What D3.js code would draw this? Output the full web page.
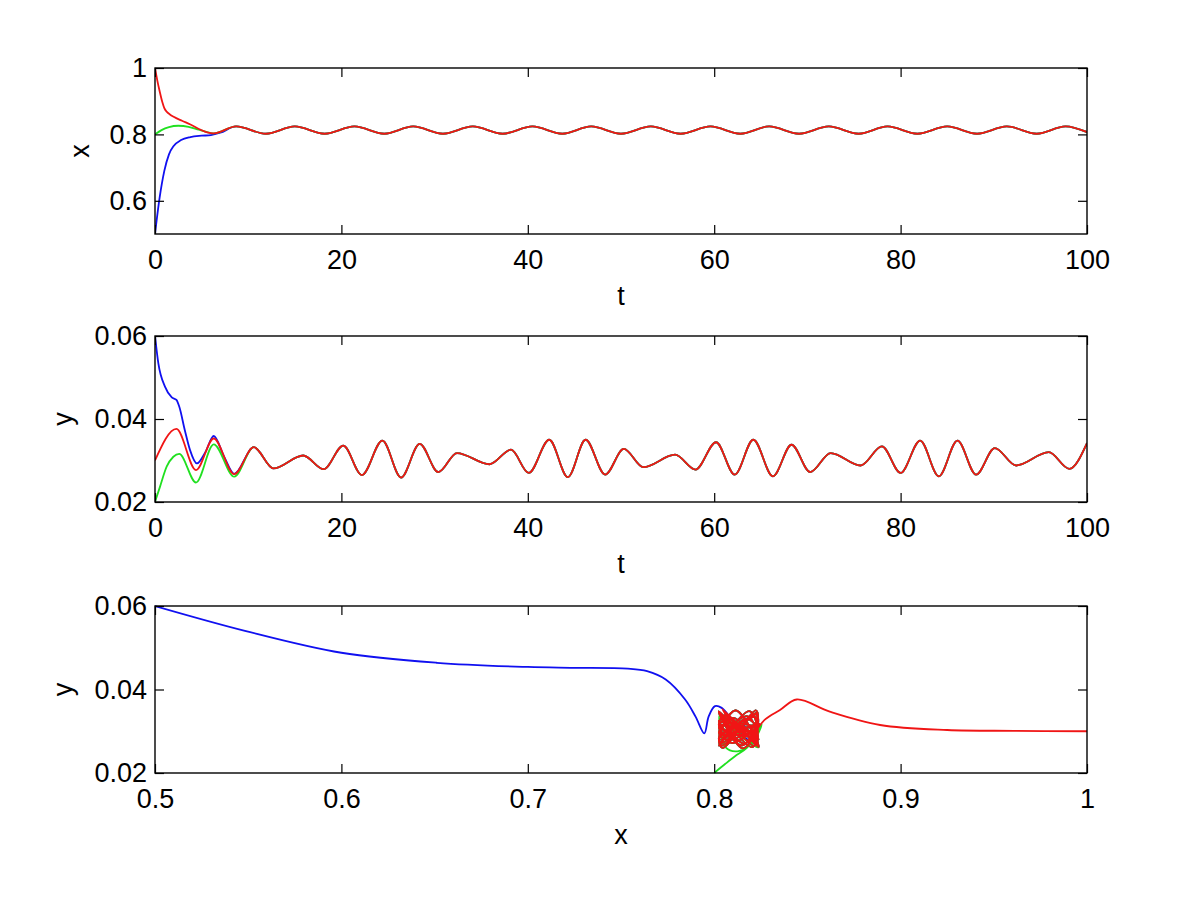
<!DOCTYPE html>
<html>
<head>
<meta charset="utf-8">
<script src="https://cdn.jsdelivr.net/npm/d3@7"></script>
<style>
  html, body { margin: 0; padding: 0; background: #fff; }
  svg { display: block; }
  text { font-family: "Liberation Sans", Arial, sans-serif; fill: #000; }
</style>
</head>
<body>
<svg id="chart" width="1200" height="903"></svg>
<script>
// ---------- tick values and labels ----------
const tTicks = [0, 20, 40, 60, 80, 100];
const tTickLabels = ["0", "20", "40", "60", "80", "100"];
const xTicks = [0.6, 0.8, 1];
const xTickLabels = ["0.6", "0.8", "1"];
const yTicks = [0.02, 0.04, 0.06];
const yTickLabels = ["0.02", "0.04", "0.06"];
const phaseTicks = [0.5, 0.6, 0.7, 0.8, 0.9, 1];
const phaseTickLabels = ["0.5", "0.6", "0.7", "0.8", "0.9", "1"];

// ---------- x(t) series: [t, x] ----------
const redXt = [[0,1.0],[0.25,0.962],[0.5,0.930],[0.8,0.896],[1.0,0.879],[1.3,0.867],[1.6,0.860],[2.0,0.853],[2.9,0.841],[3.8,0.830],
  [4.9,0.814],[5.6,0.806],[6.3,0.803],
  [8.7,0.824],[11.9,0.802],[15.0,0.824],[18.2,0.802],[21.4,0.824],[24.6,0.802],[27.7,0.824],[30.9,0.802],[34.1,0.824],[37.3,0.802],
  [40.5,0.824],[43.7,0.802],[46.8,0.824],[50.0,0.802],[53.2,0.824],[56.4,0.802],[59.6,0.824],[62.8,0.802],[65.9,0.824],[69.1,0.802],
  [72.3,0.824],[75.5,0.802],[78.6,0.824],[81.8,0.802],[85.0,0.824],[88.2,0.802],[91.4,0.824],[94.6,0.802],[97.7,0.824],[100,0.807]];
// early parts of the blue and green runs (they then follow the red run)
const blueXtStart = [[0,0.5],[0.5,0.61],[1.0,0.69],[1.5,0.74],[2.0,0.765],[2.8,0.783],[3.8,0.792],[5.0,0.796],[6.0,0.798],[7.0,0.805]];
const greenXtStart = [[0,0.800],[0.7,0.813],[1.5,0.822],[2.5,0.826],[3.6,0.823],[4.7,0.814],[5.6,0.807],[6.3,0.803]];

// ---------- y(t) series: [t, y] ----------
const redYt = [[0,0.030],[2.3,0.0376],[4.4,0.0277],[6.3,0.0353],[8.5,0.0267],[10.6,0.0332],[12.7,0.0281],[15.9,0.0312],[18.1,0.0279],
  [20.2,0.0336],[22.2,0.0265],[24.4,0.0348],[26.4,0.0259],[28.4,0.0340],[30.4,0.0272],[32.4,0.0318],[35.9,0.0291],[38.2,0.0326],
  [40.1,0.0270],[42.3,0.0350],[44.3,0.0260],[46.2,0.0350],[48.3,0.0266],[50.3,0.0328],[52.4,0.0284],[55.8,0.0314],[58.0,0.0278],
  [60.2,0.0344],[62.2,0.0266],[64.2,0.0350],[66.3,0.0262],[68.3,0.0338],[70.3,0.0272],[72.5,0.0318],[75.7,0.0288],[78.0,0.0334],
  [80.0,0.0270],[82.1,0.0348],[84.1,0.0262],[86.1,0.0348],[88.1,0.0266],[90.1,0.0330],[92.4,0.0288],[95.9,0.0320],[98.1,0.0280],[100,0.0342]];
const blueYtStart = [[0,0.060],[0.36,0.0534],[1.07,0.0478],[1.8,0.0452],[2.3,0.0446],[2.6,0.0430],[3.2,0.0373],[3.76,0.0325],[4.5,0.0293],
  [5.4,0.0320],[6.3,0.0359],[7.4,0.0310],[8.5,0.0268]];
const greenYtStart = [[0,0.020],[0.54,0.0237],[1.25,0.0285],[1.97,0.0309],[2.6,0.0316],[4.4,0.0247],[6.3,0.0339],[8.5,0.0261]];

// ---------- phase portrait: [x, y] ----------
const bluePhaseStart = [[0.5,0.060],[0.5488,0.0540],[0.6,0.0488],[0.6512,0.0464],[0.7,0.0454],[0.723,0.0452],[0.7537,0.0450],[0.764,0.0444],
  [0.774,0.0424],[0.7844,0.0376],[0.790,0.0335],[0.7947,0.0295],[0.797,0.0335],[0.8004,0.0360],[0.804,0.0356],[0.809,0.0330],
  [0.815,0.0290],[0.8235,0.0268]];
const greenPhaseStart = [[0.8,0.020],[0.806,0.0222],[0.812,0.0243],[0.8175,0.0260],[0.822,0.0290],[0.8255,0.0316],[0.821,0.0275],
  [0.8125,0.0252],[0.806,0.0262],[0.8035,0.0300],[0.803,0.0339],[0.811,0.0300],[0.8235,0.0261]];
const redPhaseStart = [[1.0,0.0300],[0.961,0.0301],[0.925,0.0303],[0.889,0.0315],[0.862,0.0347],[0.8443,0.0376],[0.8353,0.0351],
  [0.8275,0.0329],[0.823,0.0305],[0.8185,0.0277],[0.8045,0.0353],[0.8235,0.0267]];
// the shared oscillating part (t > 8.5) that all three runs end up on
const phaseLoop = [[0.8102,0.0332],[0.8025,0.0297],[0.8059,0.0281],[0.8235,0.0306],[0.8209,0.0312],[0.8025,0.0279],[0.8175,0.0336],
  [0.8235,0.0290],[0.8215,0.0265],[0.8025,0.0348],[0.8155,0.0259],[0.8235,0.0318],[0.8225,0.0340],[0.8042,0.0272],[0.8025,0.0279],
  [0.8115,0.0318],[0.8235,0.0305],[0.8115,0.0291],[0.8025,0.0314],[0.8065,0.0326],[0.8235,0.0270],[0.8112,0.0350],[0.8025,0.0279],
  [0.8045,0.0260],[0.8223,0.0350],[0.8235,0.0334],[0.8152,0.0266],[0.8025,0.0325],[0.8211,0.0284],[0.8235,0.0288],[0.8044,0.0314],
  [0.8025,0.0308],[0.8135,0.0278],[0.8235,0.0333],[0.8225,0.0344],[0.8042,0.0266],[0.8025,0.0283],[0.8115,0.0350],[0.8235,0.0270],
  [0.8238,0.0262],[0.8055,0.0338],[0.8025,0.0315],[0.8092,0.0272],[0.8242,0.0318],[0.8028,0.0288],[0.8222,0.0334],[0.8235,0.0321],
  [0.8161,0.0270],[0.8025,0.0344],[0.8203,0.0262],[0.8235,0.0298],[0.8189,0.0348],[0.8025,0.0266],[0.8170,0.0330],[0.8235,0.0304],
  [0.8193,0.0288],[0.8025,0.0310],[0.8108,0.0320],[0.8235,0.0283],[0.8237,0.0280],[0.8065,0.0342]];

// assembled runs
const blueXt = blueXtStart.concat(redXt.filter(d => d[0] > 7.0));
const greenXt = greenXtStart.concat(redXt.filter(d => d[0] > 6.3));
const blueYt = blueYtStart.concat(redYt.filter(d => d[0] > 8.5));
const greenYt = greenYtStart.concat(redYt.filter(d => d[0] > 8.5));
const bluePhase = bluePhaseStart.concat(phaseLoop);
const greenPhase = greenPhaseStart.concat(phaseLoop);
const redPhase = redPhaseStart.concat(phaseLoop);

const COLORS = { blue: "#1010f0", green: "#20e020", red: "#f01515" };

const svg = d3.select("#chart");
const LEFT = 155, RIGHT = 1087;
const FONT = "27px";

function panel(opts) {
  const { id, top, bottom, xDomain, yDomain, xt, xtl, yt, ytl, xlabel, ylabel, ylabelX, series, curve } = opts;
  const x = d3.scaleLinear().domain(xDomain).range([LEFT, RIGHT]);
  const y = d3.scaleLinear().domain(yDomain).range([bottom, top]);
  const g = svg.append("g");

  g.append("clipPath").attr("id", "clip" + id)
    .append("rect").attr("x", LEFT).attr("y", top - 1).attr("width", RIGHT - LEFT).attr("height", bottom - top + 2);

  const line = d3.line().x(d => x(d[0])).y(d => y(d[1])).curve(curve);
  const lines = g.append("g").attr("clip-path", `url(#clip${id})`);
  series.forEach(s => {
    lines.append("path").datum(s.data)
      .attr("fill", "none").attr("stroke", COLORS[s.color])
      .attr("stroke-width", 1.8).attr("stroke-linejoin", "round")
      .attr("d", line);
  });

  const fmt = (vals, labels) => d => labels[vals.indexOf(d)];
  const tickLen = 9;
  const styleAxis = sel => {
    sel.select(".domain").remove();
    sel.selectAll("line").attr("stroke", "#000").attr("stroke-width", 1.2);
    sel.selectAll("text").style("font-size", FONT).style("font-family", '"Liberation Sans", Arial, sans-serif');
  };
  g.append("g").attr("transform", `translate(0,${bottom})`)
    .call(d3.axisBottom(x).tickValues(xt).tickFormat(fmt(xt, xtl)).tickSizeInner(-tickLen).tickSizeOuter(0).tickPadding(16))
    .call(styleAxis);
  g.append("g").attr("transform", `translate(0,${top})`)
    .call(d3.axisTop(x).tickValues(xt).tickFormat("").tickSizeInner(-tickLen).tickSizeOuter(0))
    .call(styleAxis);
  g.append("g").attr("transform", `translate(${LEFT},0)`)
    .call(d3.axisLeft(y).tickValues(yt).tickFormat(fmt(yt, ytl)).tickSizeInner(-tickLen).tickSizeOuter(0).tickPadding(8))
    .call(styleAxis);
  g.append("g").attr("transform", `translate(${RIGHT},0)`)
    .call(d3.axisRight(y).tickValues(yt).tickFormat("").tickSizeInner(-tickLen).tickSizeOuter(0))
    .call(styleAxis);

  g.append("rect").attr("x", LEFT).attr("y", top).attr("width", RIGHT - LEFT).attr("height", bottom - top)
    .attr("fill", "none").attr("stroke", "#000").attr("stroke-width", 1.4);

  g.append("text").attr("x", (LEFT + RIGHT) / 2).attr("y", bottom + 71)
    .attr("text-anchor", "middle").style("font-size", FONT).text(xlabel);
  g.append("text").attr("transform", `translate(${ylabelX},${(top + bottom) / 2}) rotate(-90)`)
    .attr("text-anchor", "middle").style("font-size", FONT).text(ylabel);
}

panel({
  id: 1, top: 68, bottom: 234, xDomain: [0, 100], yDomain: [0.5, 1],
  xt: tTicks, xtl: tTickLabels, yt: xTicks, ytl: xTickLabels,
  xlabel: "t", ylabel: "x", ylabelX: 89, curve: d3.curveMonotoneX,
  series: [{ data: blueXt, color: "blue" }, { data: greenXt, color: "green" }, { data: redXt, color: "red" }]
});
panel({
  id: 2, top: 336, bottom: 502, xDomain: [0, 100], yDomain: [0.02, 0.06],
  xt: tTicks, xtl: tTickLabels, yt: yTicks, ytl: yTickLabels,
  xlabel: "t", ylabel: "y", ylabelX: 72, curve: d3.curveMonotoneX,
  series: [{ data: blueYt, color: "blue" }, { data: greenYt, color: "green" }, { data: redYt, color: "red" }]
});
panel({
  id: 3, top: 606, bottom: 773, xDomain: [0.5, 1], yDomain: [0.02, 0.06],
  xt: phaseTicks, xtl: phaseTickLabels, yt: yTicks, ytl: yTickLabels,
  xlabel: "x", ylabel: "y", ylabelX: 72, curve: d3.curveCatmullRom.alpha(0.5),
  series: [{ data: bluePhase, color: "blue" }, { data: greenPhase, color: "green" }, { data: redPhase, color: "red" }]
});
</script>
</body>
</html>
